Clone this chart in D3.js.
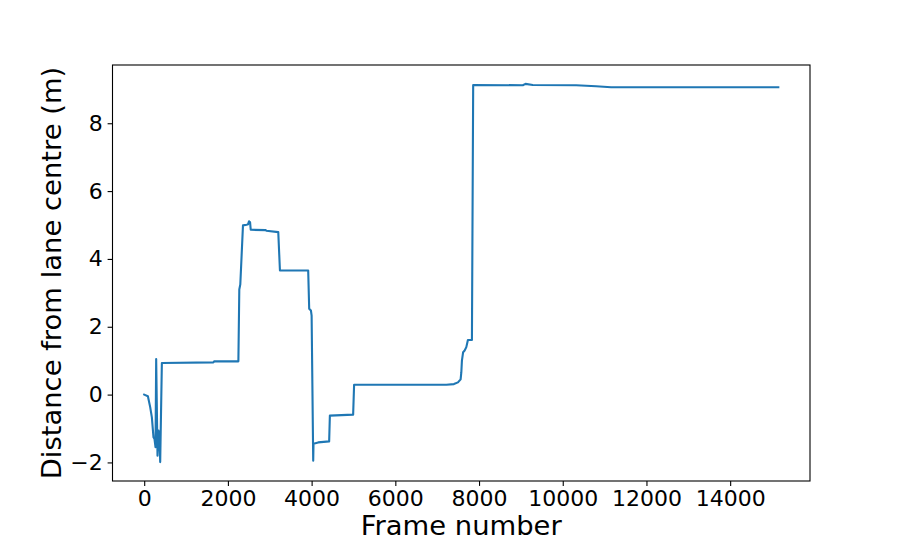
<!DOCTYPE html>
<html>
<head>
<meta charset="utf-8">
<script src="https://cdn.jsdelivr.net/npm/d3@7"></script>
<style>
  html, body { margin: 0; padding: 0; background: #fff; }
  svg { display: block; font-family: "DejaVu Sans", sans-serif; }
</style>
</head>
<body>
<svg id="chart"></svg>
<script>
/* ---------- data ---------- */
const frames = [
  0, 88, 143, 183, 222, 246, 270, 286, 318, 342, 365, 382, 422,
  1653, 1670, 2250, 2272, 2296, 2360, 2449, 2480, 2504, 2530, 2545,
  2900, 2920, 3203, 3243, 3918, 3942, 3983, 4000, 4038, 4045,
  4157, 4419, 4436, 4992, 5015, 7000, 7219, 7400, 7496, 7560, 7577,
  7591, 7620, 7656, 7696, 7734, 7830, 7860, 9046, 9110, 9284,
  10320, 10797, 11154, 12000, 15150
];
const distance = [
  0, -0.05, -0.37, -0.67, -1.26, -1.31, -1.55, 1.05, -1.8, -1.06, -1.3, -1.99, 0.93,
  0.95, 0.98, 0.98, 3.1, 3.25, 4.99, 5.01, 5.02, 5.11, 5.08, 4.86,
  4.85, 4.83, 4.79, 3.66, 3.66, 2.53, 2.48, 2.33, -1.95, -1.45,
  -1.41, -1.38, -0.62, -0.59, 0.29, 0.29, 0.29, 0.31, 0.36, 0.45, 0.66,
  1.0, 1.25, 1.3, 1.4, 1.61, 1.61, 9.13, 9.12, 9.16, 9.13,
  9.12, 9.09, 9.06, 9.06, 9.06
];
const xTicks = [0, 2000, 4000, 6000, 8000, 10000, 12000, 14000];
const yTicks = [-2, 0, 2, 4, 6, 8];
const xLabel = "Frame number";
const yLabel = "Distance from lane centre (m)";

/* ---------- setup ---------- */
const width = 900, height = 540;
const margin = { left: 112.5, right: 90, top: 65, bottom: 59 };
const plotW = width - margin.left - margin.right,
      plotH = height - margin.top - margin.bottom;

const svg = d3.select("#chart").attr("width", width).attr("height", height);

const pad = (lo, hi) => { const p = (hi - lo) * 0.05; return [lo - p, hi + p]; };

const x = d3.scaleLinear()
  .domain(pad(d3.min(frames), d3.max(frames)))
  .range([margin.left, margin.left + plotW]);
const y = d3.scaleLinear()
  .domain(pad(d3.min(distance), d3.max(distance)))
  .range([margin.top + plotH, margin.top]);

const points = frames.map((f, i) => [f, distance[i]]);

/* ---------- line ---------- */
svg.append("path")
  .datum(points)
  .attr("fill", "none")
  .attr("stroke", "#1f77b4")
  .attr("stroke-width", 2.1)
  .attr("stroke-linejoin", "round")
  .attr("stroke-linecap", "square")
  .attr("d", d3.line().x(d => x(d[0])).y(d => y(d[1])));

/* ---------- axes ---------- */
const fmt = d => d < 0 ? "\u2212" + Math.abs(d) : String(d);

const xAxis = svg.append("g")
  .attr("transform", `translate(0,${margin.top + plotH})`)
  .call(d3.axisBottom(x).tickValues(xTicks).tickFormat(fmt).tickSizeOuter(0).tickSize(4.9).tickPadding(4.9));
const yAxis = svg.append("g")
  .attr("transform", `translate(${margin.left},0)`)
  .call(d3.axisLeft(y).tickValues(yTicks).tickFormat(fmt).tickSizeOuter(0).tickSize(4.9).tickPadding(4.9));

[xAxis, yAxis].forEach(g => {
  g.select(".domain").remove();
  g.selectAll(".tick line").attr("stroke", "#000").attr("stroke-width", 1.1);
  g.selectAll(".tick text")
    .attr("fill", "#000")
    .attr("font-family", "DejaVu Sans, sans-serif")
    .attr("font-size", 22);
});

// frame
svg.append("rect")
  .attr("x", margin.left).attr("y", margin.top)
  .attr("width", plotW).attr("height", plotH)
  .attr("fill", "none").attr("stroke", "#000").attr("stroke-width", 1.1);

/* ---------- labels ---------- */
svg.append("text")
  .attr("x", margin.left + plotW / 2).attr("y", 535)
  .attr("text-anchor", "middle")
  .attr("font-size", 27.4).attr("fill", "#000")
  .text(xLabel);

svg.append("text")
  .attr("transform", `translate(61,${margin.top + plotH / 2}) rotate(-90)`)
  .attr("text-anchor", "middle")
  .attr("font-size", 27.4).attr("fill", "#000")
  .text(yLabel);
</script>
</body>
</html>
